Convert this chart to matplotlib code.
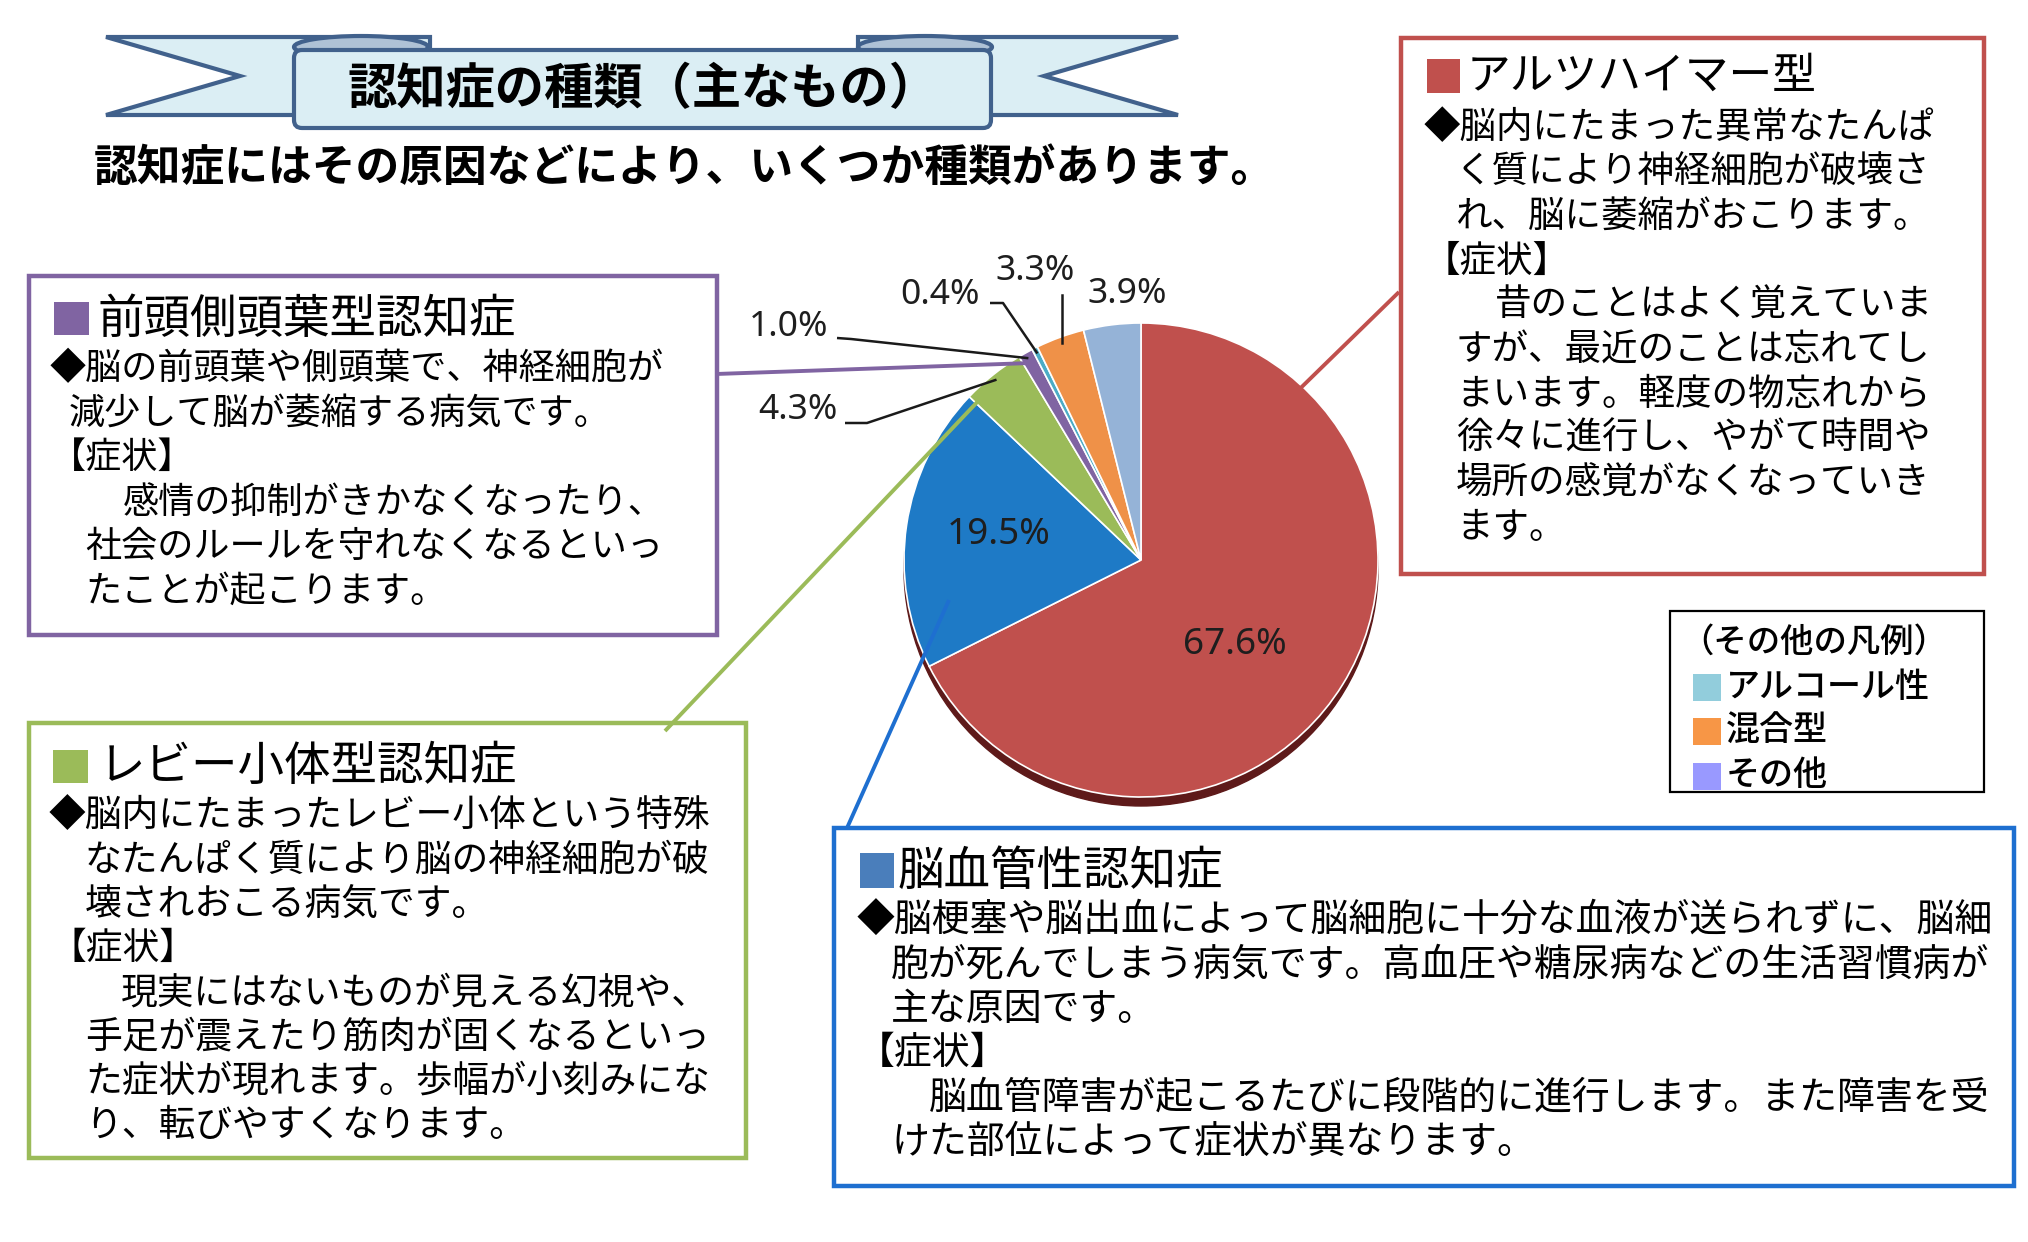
import matplotlib
matplotlib.use('Agg')
import matplotlib.pyplot as plt
from matplotlib.patches import Rectangle, Polygon, Ellipse, FancyBboxPatch
import numpy as np

plt.rcParams['font.family'] = ['Noto Sans CJK JP', 'DejaVu Sans']

# ---------------- data ----------------
categories = ['アルツハイマー型', '脳血管性認知症', 'レビー小体型認知症', '前頭側頭葉型認知症',
              'アルコール性', '混合型', 'その他']
shares = [67.6, 19.5, 4.3, 1.0, 0.4, 3.3, 3.9]
slice_colors = ['#C0504D', '#1E7AC6', '#9BBB59', '#8064A2', '#4BACC6', '#EF9148', '#95B3D7']
pct_labels = [f'{v:.1f}%' for v in shares]

legend_title = '（その他の凡例）'
legend_items = ['アルコール性', '混合型', 'その他']
legend_colors = ['#92CDDC', '#F79646', '#9999FF']

title = '認知症の種類（主なもの）'
subtitle = '認知症にはその原因などにより、いくつか種類があります。'

red_title = 'アルツハイマー型'
red_lines = ['◆脳内にたまった異常なたんぱ', 'く質により神経細胞が破壊さ', 'れ、脳に萎縮がおこります。',
             '【症状】', '昔のことはよく覚えていま', 'すが、最近のことは忘れてし',
             'まいます。軽度の物忘れから', '徐々に進行し、やがて時間や', '場所の感覚がなくなっていき', 'ます。']
purple_title = '前頭側頭葉型認知症'
purple_lines = ['◆脳の前頭葉や側頭葉で、神経細胞が', '減少して脳が萎縮する病気です。', '【症状】',
                '感情の抑制がきかなくなったり、', '社会のルールを守れなくなるといっ', 'たことが起こります。']
green_title = 'レビー小体型認知症'
green_lines = ['◆脳内にたまったレビー小体という特殊', 'なたんぱく質により脳の神経細胞が破',
               '壊されおこる病気です。', '【症状】', '現実にはないものが見える幻視や、',
               '手足が震えたり筋肉が固くなるといっ', 'た症状が現れます。歩幅が小刻みにな',
               'り、転びやすくなります。']
blue_title = '脳血管性認知症'
blue_lines = ['◆脳梗塞や脳出血によって脳細胞に十分な血液が送られずに、脳細',
              '胞が死んでしまう病気です。高血圧や糖尿病などの生活習慣病が', '主な原因です。',
              '【症状】', '脳血管障害が起こるたびに段階的に進行します。また障害を受',
              'けた部位によって症状が異なります。']

# ---------------- figure ----------------
W, H = 2028, 1242
fig = plt.figure(figsize=(W / 100, H / 100), dpi=100)
fig.patch.set_facecolor('white')
ax = fig.add_axes([0, 0, 1, 1])


def Y(y):
    return H - y


# ---------- pie ----------
cx, cy, R = 1141, 560, 237
ax.add_patch(Ellipse((cx, Y(cy + 9)), 2 * R, 2 * R, color='#5E1A1A', zorder=1))
wedges, _ = ax.pie(shares, colors=slice_colors, startangle=90, counterclock=False,
                   center=(cx, Y(cy)), radius=R, frame=False,
                   wedgeprops=dict(edgecolor='white', linewidth=1.2, zorder=2))
for w in wedges:
    w.set_zorder(2)
ax.set_xlim(0, W)
ax.set_ylim(0, H)
ax.set_aspect('auto')
ax.axis('off')

# percent labels
label_pos = [(1235, 645), (999, 535), (798, 410), (789, 327), (940, 295), (1035, 271), (1127, 294)]
for i, (lbl, (x, y)) in enumerate(zip(pct_labels, label_pos)):
    fs = 26.5 if i < 2 else 25.5
    ax.text(x, Y(y), lbl, ha='center', va='center', fontsize=fs, color='#1e1e1e',
            family=['Noto Sans', 'DejaVu Sans'], zorder=5)


def wedge_point(idx, frac):
    w = wedges[idx]
    th = np.deg2rad((w.theta1 + w.theta2) / 2)
    return w.center[0] + w.r * frac * np.cos(th), w.center[1] + w.r * frac * np.sin(th)


# leader lines (start, elbow) -> wedge
leaders = {3: [(837, 338), (851, 339)], 4: [(990, 303), (1003, 303)], 2: [(845, 423), (867, 423)]}
for idx, pts in leaders.items():
    ex, ey = wedge_point(idx, 0.975)
    xs = [p[0] for p in pts] + [ex]
    ys = [Y(p[1]) for p in pts] + [ey]
    ax.plot(xs, ys, color='#1a1a1a', lw=1.8, zorder=4, solid_capstyle='butt')
ex, ey = wedge_point(5, 0.975)
ax.plot([ex, ex], [Y(295), ey], color='#1a1a1a', lw=1.8, zorder=4)

# connector lines from boxes into slices
connectors = [((1399, 292), (1231, 456), '#C0504D'),
              ((716, 374), (1031, 363), '#8064A2'),
              ((665, 731), (982, 397), '#9BBB59'),
              ((847, 828), (949, 600), '#1E6FD0')]
for (x0, y0), (x1, y1), c in connectors:
    ax.plot([x0, x1], [Y(y0), Y(y1)], color=c, lw=2.8, zorder=4, solid_capstyle='butt')

# ---------- banner ----------
edge = '#41618C'
fill = '#DBEEF4'
fold = '#AFC2D6'
ax.add_patch(Polygon([(106, Y(37)), (430, Y(37)), (430, Y(115)), (106, Y(115)), (240, Y(76))],
                     closed=True, facecolor=fill, edgecolor=edge, lw=3, zorder=6, joinstyle='miter'))
ax.add_patch(Polygon([(858, Y(37)), (1178, Y(37)), (1044, Y(76)), (1178, Y(115)), (858, Y(115))],
                     closed=True, facecolor=fill, edgecolor=edge, lw=3, zorder=6, joinstyle='miter'))
ax.add_patch(Ellipse((361, Y(47)), 134, 22, facecolor=fold, edgecolor=edge, lw=3, zorder=7))
ax.add_patch(Ellipse((925, Y(47)), 134, 22, facecolor=fold, edgecolor=edge, lw=3, zorder=7))
ax.add_patch(FancyBboxPatch((294, Y(128)), 697, 78, boxstyle='round,pad=0,rounding_size=8',
                            facecolor=fill, edgecolor=edge, lw=3, zorder=8))
ax.text(643, Y(90), title, ha='center', va='center', fontsize=35.5, fontweight='bold',
        color='black', zorder=9)
ax.text(94, Y(168), subtitle, ha='left', va='center', fontsize=31.5, fontweight='bold',
        color='black', zorder=9)


# ---------- text boxes ----------
def text_box(rect, ecolor, sq, sqcolor, ttl, tx, ty, tfs, lines, xs, y0, dy, fs):
    x0, y0b, x1, y1b = rect
    ax.add_patch(Rectangle((x0, Y(y1b)), x1 - x0, y1b - y0b, facecolor='white',
                           edgecolor=ecolor, lw=3.2, zorder=3))
    sx0, sy0, sx1, sy1 = sq
    ax.add_patch(Rectangle((sx0, Y(sy1)), sx1 - sx0, sy1 - sy0, facecolor=sqcolor,
                           edgecolor='none', zorder=4))
    ax.text(tx, Y(ty), ttl, ha='left', va='center', fontsize=tfs, color='black', zorder=5)
    for i, (ln, x) in enumerate(zip(lines, xs)):
        ax.text(x, Y(y0 + dy * i), ln, ha='left', va='center', fontsize=fs,
                color='black', zorder=5)


text_box((1401, 37.5, 1984, 574), '#C0504D', (1427, 59, 1460, 93), '#C0504D',
         red_title, 1467, 76, 31.5, red_lines,
         [1424, 1456, 1456, 1424, 1495, 1456, 1456, 1456, 1456, 1456], 128.5, 44.35, 26.3)
text_box((28.5, 275.5, 716.5, 635), '#8064A2', (54, 302, 89, 335), '#8064A2',
         purple_title, 97, 320, 33.5, purple_lines,
         [50, 69, 50, 123, 85, 85], 369, 44.6, 26.0)
text_box((28.5, 723, 746, 1157.5), '#9BBB59', (53, 750, 88, 783), '#9BBB59',
         green_title, 99, 767, 33.5, green_lines,
         [49, 85, 85, 49, 121, 85, 85, 85], 816, 44.2, 26.5)
text_box((834, 828, 2014, 1186), '#1E6FD0', (860, 853, 894, 888), '#4A7EBB',
         blue_title, 898, 872, 33.5, blue_lines,
         [857, 891, 891, 857, 929, 891], 921, 44.2, 27.3)

# ---------- legend box ----------
ax.add_patch(Rectangle((1670, Y(791.5)), 314, 181, facecolor='white', edgecolor='black',
                       lw=1.6, zorder=3))
ax.text(1680, Y(642), legend_title, ha='left', va='center', fontsize=24, fontweight='medium',
        color='black', zorder=5)
for i, (name, c) in enumerate(zip(legend_items, legend_colors)):
    yc = 687 + 44.5 * i
    ax.add_patch(Rectangle((1693, Y(yc + 13.5)), 28, 27, facecolor=c, edgecolor='none', zorder=4))
    ax.text(1726, Y(yc), name, ha='left', va='center', fontsize=24.5, fontweight='medium',
            color='black', zorder=5)

fig.savefig('out.png', dpi=100, facecolor='white')
